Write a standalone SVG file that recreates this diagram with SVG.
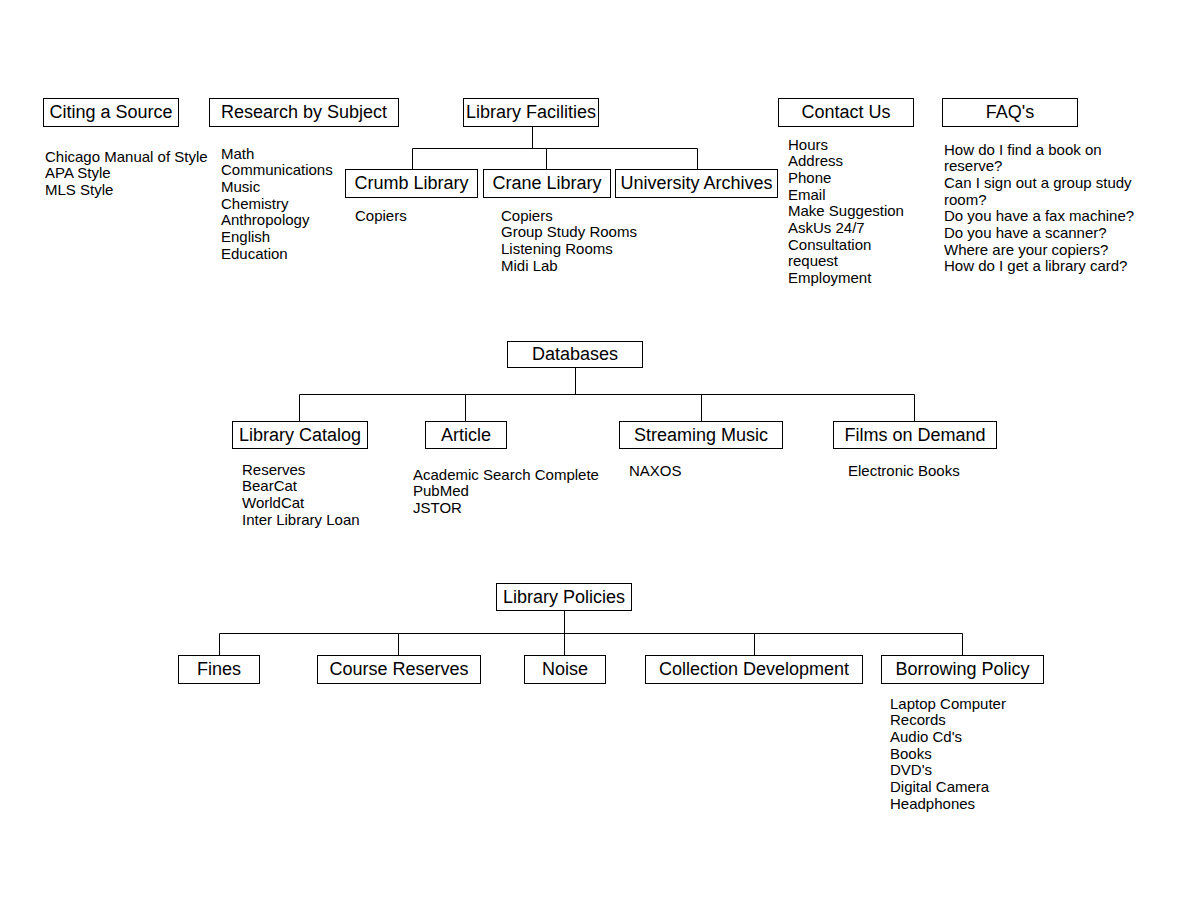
<svg xmlns="http://www.w3.org/2000/svg" width="1188" height="918" viewBox="0 0 1188 918">
<style>
rect.b{fill:#fff;stroke:#000;stroke-width:1}
text{font-family:"Liberation Sans",Arial,sans-serif;fill:#000}
text.t{font-size:18px;text-anchor:middle}
text.l{font-size:15px}
#connectors path{fill:none;stroke:#000;stroke-width:1}
</style>
<rect width="1188" height="918" fill="#fff"/>
<g id="connectors">
<path d="M532.5 126V148.5M412.5 169V148.5H697.5V169M546.5 148.5V169"/>
<path d="M575.5 367V394.5M299.5 421V394.5H914.5V421M465.5 394.5V421M701.5 394.5V421"/>
<path d="M564.5 610V633.5M219.5 655V633.5H962.5V655M398.5 633.5V655M564.5 633.5V655M754.5 633.5V655"/>
</g>
<g id="citing"><rect class="b" x="43.5" y="98.5" width="135" height="28"/><text class="t" x="111" y="118">Citing a Source</text>
<text class="l" x="45"><tspan x="45" y="161.5">Chicago Manual of Style</tspan><tspan x="45" y="178.2">APA Style</tspan><tspan x="45" y="194.9">MLS Style</tspan></text></g>
<g id="research"><rect class="b" x="209.5" y="98.5" width="189" height="28"/><text class="t" x="304" y="118">Research by Subject</text>
<text class="l"><tspan x="221" y="158.5">Math</tspan><tspan x="221" y="175.2">Communications</tspan><tspan x="221" y="191.9">Music</tspan><tspan x="221" y="208.6">Chemistry</tspan><tspan x="221" y="225.3">Anthropology</tspan><tspan x="221" y="242">English</tspan><tspan x="221" y="258.7">Education</tspan></text></g>
<g id="facilities"><rect class="b" x="463.5" y="98.5" width="135" height="28"/><text class="t" x="531" y="118">Library Facilities</text></g>
<g id="crumb"><rect class="b" x="345.5" y="169.5" width="132" height="28"/><text class="t" x="411.5" y="189">Crumb Library</text>
<text class="l"><tspan x="355" y="220.5">Copiers</tspan></text></g>
<g id="crane"><rect class="b" x="483.5" y="169.5" width="127" height="28"/><text class="t" x="547" y="189">Crane Library</text>
<text class="l"><tspan x="501" y="220.5">Copiers</tspan><tspan x="501" y="237.2">Group Study Rooms</tspan><tspan x="501" y="253.9">Listening Rooms</tspan><tspan x="501" y="270.6">Midi Lab</tspan></text></g>
<g id="archives"><rect class="b" x="615.5" y="169.5" width="162" height="28"/><text class="t" x="696.5" y="189">University Archives</text></g>
<g id="contact"><rect class="b" x="778.5" y="98.5" width="135" height="28"/><text class="t" x="846" y="118">Contact Us</text>
<text class="l"><tspan x="788" y="149.5">Hours</tspan><tspan x="788" y="166.2">Address</tspan><tspan x="788" y="182.9">Phone</tspan><tspan x="788" y="199.6">Email</tspan><tspan x="788" y="216.3">Make Suggestion</tspan><tspan x="788" y="233">AskUs 24/7</tspan><tspan x="788" y="249.7">Consultation</tspan><tspan x="788" y="266.4">request</tspan><tspan x="788" y="283.1">Employment</tspan></text></g>
<g id="faq"><rect class="b" x="942.5" y="98.5" width="135" height="28"/><text class="t" x="1010" y="118">FAQ's</text>
<text class="l"><tspan x="944" y="154.5">How do I find a book on</tspan><tspan x="944" y="171.2">reserve?</tspan><tspan x="944" y="187.9">Can I sign out a group study</tspan><tspan x="944" y="204.6">room?</tspan><tspan x="944" y="221.3">Do you have a fax machine?</tspan><tspan x="944" y="238">Do you have a scanner?</tspan><tspan x="944" y="254.7">Where are your copiers?</tspan><tspan x="944" y="271.4">How do I get a library card?</tspan></text></g>
<g id="databases"><rect class="b" x="507.5" y="341.5" width="135" height="26"/><text class="t" x="575" y="360">Databases</text></g>
<g id="catalog"><rect class="b" x="232.5" y="421.5" width="135" height="27"/><text class="t" x="300" y="441">Library Catalog</text>
<text class="l"><tspan x="242" y="474.5">Reserves</tspan><tspan x="242" y="491.2">BearCat</tspan><tspan x="242" y="507.9">WorldCat</tspan><tspan x="242" y="524.6">Inter Library Loan</tspan></text></g>
<g id="article"><rect class="b" x="425.5" y="421.5" width="81" height="27"/><text class="t" x="466" y="441">Article</text>
<text class="l"><tspan x="413" y="479.5">Academic Search Complete</tspan><tspan x="413" y="496.2">PubMed</tspan><tspan x="413" y="512.9">JSTOR</tspan></text></g>
<g id="streaming"><rect class="b" x="619.5" y="421.5" width="163" height="27"/><text class="t" x="701" y="441">Streaming Music</text>
<text class="l"><tspan x="629" y="475.5">NAXOS</tspan></text></g>
<g id="films"><rect class="b" x="833.5" y="421.5" width="163" height="27"/><text class="t" x="915" y="441">Films on Demand</text>
<text class="l"><tspan x="848" y="475.5">Electronic Books</tspan></text></g>
<g id="policies"><rect class="b" x="496.5" y="583.5" width="135" height="27"/><text class="t" x="564" y="603">Library Policies</text></g>
<g id="fines"><rect class="b" x="178.5" y="655.5" width="81" height="28"/><text class="t" x="219" y="675">Fines</text></g>
<g id="course"><rect class="b" x="317.5" y="655.5" width="163" height="28"/><text class="t" x="399" y="675">Course Reserves</text></g>
<g id="noise"><rect class="b" x="524.5" y="655.5" width="81" height="28"/><text class="t" x="565" y="675">Noise</text></g>
<g id="collection"><rect class="b" x="645.5" y="655.5" width="217" height="28"/><text class="t" x="754" y="675">Collection Development</text></g>
<g id="borrowing"><rect class="b" x="881.5" y="655.5" width="162" height="28"/><text class="t" x="962.5" y="675">Borrowing Policy</text>
<text class="l"><tspan x="890" y="708.5">Laptop Computer</tspan><tspan x="890" y="725.2">Records</tspan><tspan x="890" y="741.9">Audio Cd's</tspan><tspan x="890" y="758.6">Books</tspan><tspan x="890" y="775.3">DVD's</tspan><tspan x="890" y="792">Digital Camera</tspan><tspan x="890" y="808.7">Headphones</tspan></text></g>
</svg>
